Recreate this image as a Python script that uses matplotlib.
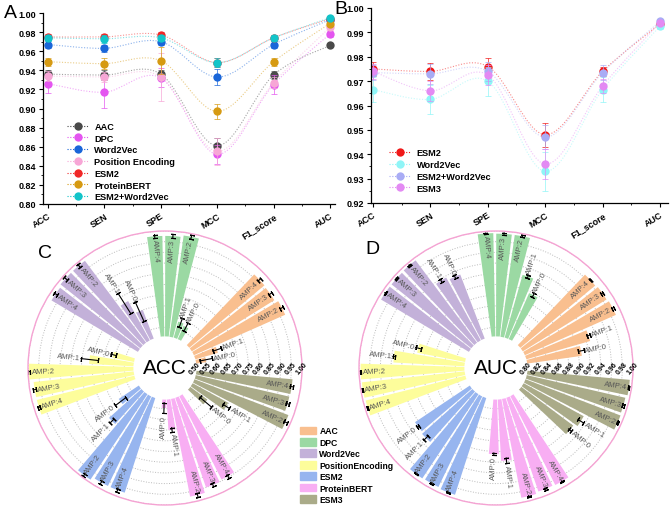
import numpy as np
import matplotlib
matplotlib.use("Agg")
import matplotlib.pyplot as plt
from matplotlib.path import Path
from matplotlib.patches import PathPatch, Patch, Circle
from matplotlib.lines import Line2D
from matplotlib.ticker import MultipleLocator, FixedLocator

plt.rcParams['font.family'] = ['Liberation Sans', 'DejaVu Sans']

# ---------------- data: panel A ----------------
metrics = ["ACC", "SEN", "SPE", "MCC", "F1_score", "AUC"]

a_names = ["AAC", "DPC", "Word2Vec", "Position Encoding", "ESM2", "ProteinBERT", "ESM2+Word2Vec"]
a_aac = [0.936, 0.935, 0.936, 0.861, 0.935, 0.966]
a_dpc = [0.926, 0.917, 0.932, 0.852, 0.925, 0.978]
a_w2v = [0.967, 0.963, 0.970, 0.933, 0.967, 0.993]
a_pe = [0.934, 0.933, 0.933, 0.855, 0.927, 0.985]
a_esm2 = [0.975, 0.975, 0.977, 0.948, 0.974, 0.994]
a_pbert = [0.949, 0.947, 0.950, 0.897, 0.949, 0.989]
a_ew = [0.974, 0.973, 0.974, 0.948, 0.974, 0.995]

ea_aac = [0.004, 0.005, 0.004, 0.008, 0.004, 0.002]
ea_dpc = [0.010, 0.016, 0.010, 0.010, 0.010, 0.003]
ea_w2v = [0.004, 0.004, 0.004, 0.008, 0.004, 0.002]
ea_pe = [0.005, 0.005, 0.025, 0.014, 0.006, 0.003]
ea_esm2 = [0.003, 0.003, 0.003, 0.005, 0.003, 0.001]
ea_pbert = [0.004, 0.006, 0.014, 0.008, 0.004, 0.002]
ea_ew = [0.003, 0.004, 0.003, 0.005, 0.003, 0.001]

a_colors = ['#4a4a4a', '#e455f0', '#1a66d9', '#f7a6d6', '#f02828', '#d69a12', '#12c4c9']

# ---------------- data: panel B ----------------
b_names = ["ESM2", "Word2Vec", "ESM2+Word2Vec", "ESM3"]
b_esm2 = [0.975, 0.974, 0.976, 0.948, 0.974, 0.9935]
b_w2v = [0.9665, 0.9625, 0.970, 0.933, 0.9665, 0.9925]
b_ew = [0.9735, 0.973, 0.974, 0.947, 0.9735, 0.9945]
b_esm3 = [0.974, 0.966, 0.9725, 0.936, 0.968, 0.994]

eb_esm2 = [0.003, 0.0035, 0.0035, 0.005, 0.002, 0.001]
eb_w2v = [0.005, 0.006, 0.006, 0.008, 0.005, 0.001]
eb_ew = [0.003, 0.004, 0.004, 0.005, 0.003, 0.001]
eb_esm3 = [0.003, 0.004, 0.004, 0.006, 0.003, 0.001]

b_colors = ['#f01818', '#8ff5f7', '#a9acf5', '#e38af3']

# ---------------- data: panels C / D ----------------
groups = ["AAC", "DPC", "Word2Vec", "PositionEncoding", "ESM2", "ProteinBERT", "ESM3"]
amp_labels = ["AMP:0", "AMP:1", "AMP:2", "AMP:3", "AMP:4"]
g_colors = ['#f9bf8f', '#9bd9a3', '#c3b1d9', '#fdfd9b', '#97b5ef', '#f8aef3', '#aaab89']

acc_aac = [0.555, 0.617, 0.974, 0.961, 0.964]
acc_dpc = [0.575, 0.585, 0.985, 0.977, 0.977]
acc_w2v = [0.650, 0.717, 0.985, 0.985, 0.977]
acc_pe = [0.610, 0.715, 0.995, 0.977, 0.977]
acc_esm2 = [0.620, 0.710, 0.987, 0.972, 0.972]
acc_pbert = [0.547, 0.650, 0.972, 0.950, 0.944]
acc_esm3 = [0.607, 0.697, 0.977, 0.956, 0.958]

eacc_aac = [0.030, 0.020, 0.008, 0.008, 0.008]
eacc_dpc = [0.020, 0.020, 0.008, 0.008, 0.008]
eacc_w2v = [0.050, 0.055, 0.008, 0.008, 0.008]
eacc_pe = [0.012, 0.040, 0.006, 0.006, 0.006]
eacc_esm2 = [0.030, 0.012, 0.008, 0.008, 0.008]
eacc_pbert = [0.025, 0.010, 0.008, 0.008, 0.008]
eacc_esm3 = [0.035, 0.018, 0.008, 0.008, 0.008]

auc_aac = [0.906, 0.927, 0.989, 0.987, 0.985]
auc_dpc = [0.897, 0.925, 0.995, 0.995, 0.996]
auc_w2v = [0.931, 0.937, 0.995, 0.994, 0.994]
auc_pe = [0.894, 0.936, 0.997, 0.996, 0.995]
auc_esm2 = [0.926, 0.929, 0.992, 0.991, 0.993]
auc_pbert = [0.905, 0.918, 0.991, 0.988, 0.989]
auc_esm3 = [0.924, 0.931, 0.993, 0.992, 0.995]

eauc_aac = [0.005, 0.003, 0.002, 0.002, 0.001]
eauc_dpc = [0.004, 0.003, 0.002, 0.002, 0.001]
eauc_w2v = [0.003, 0.003, 0.001, 0.001, 0.001]
eauc_pe = [0.005, 0.002, 0.001, 0.001, 0.001]
eauc_esm2 = [0.002, 0.006, 0.001, 0.001, 0.001]
eauc_pbert = [0.002, 0.005, 0.001, 0.002, 0.001]
eauc_esm3 = [0.003, 0.006, 0.001, 0.002, 0.001]


def smooth_path(x, y):
    # Catmull-Rom style bezier through the points (display spline like Origin)
    pts = np.column_stack([x, y]).astype(float)
    n = len(pts)
    verts = [pts[0]]
    codes = [Path.MOVETO]
    for i in range(n - 1):
        p0 = pts[i - 1] if i > 0 else pts[i]
        p1, p2 = pts[i], pts[i + 1]
        p3 = pts[i + 2] if i + 2 < n else pts[i + 1]
        verts += [p1 + (p2 - p0) / 6, p2 - (p3 - p1) / 6, p2]
        codes += [Path.CURVE4] * 3
    return Path(verts, codes)


def line_panel(ax, series, errs, names, colors, ylim, ymaj, ymin, xlim):
    x = np.arange(len(metrics))
    for vals, err, name, c in zip(series, errs, names, colors):
        ax.add_patch(PathPatch(smooth_path(x, vals), fill=False, ec=c, lw=0.8,
                               ls=(0, (1, 1.5)), alpha=0.5))
        ax.errorbar(x, vals, yerr=err, fmt='none', ecolor=c, elinewidth=0.7,
                    capsize=2, capthick=0.7, alpha=0.7)
        ax.plot(x, vals, 'o', color=c, ms=6, mec='none')
    ax.set_xlim(*xlim)
    ax.set_ylim(*ylim)
    ax.set_xticks(x)
    ax.set_xticklabels(metrics, rotation=32, ha='right', rotation_mode='anchor',
                       fontsize=6.5, fontweight='bold')
    ax.xaxis.set_minor_locator(FixedLocator(x[:-1] + 0.5))
    ax.yaxis.set_major_locator(MultipleLocator(ymaj))
    ax.yaxis.set_minor_locator(MultipleLocator(ymin))
    ax.yaxis.set_major_formatter(plt.FormatStrFormatter('%.2f'))
    for lab in ax.get_yticklabels():
        lab.set_fontweight('bold')
        lab.set_fontsize(6.5)
    ax.tick_params(which='major', direction='out', length=3, width=0.8, pad=2)
    ax.tick_params(which='minor', direction='out', length=1.5, width=0.6)
    for s in ['top', 'right']:
        ax.spines[s].set_visible(False)
    for s in ['left', 'bottom']:
        ax.spines[s].set_linewidth(0.9)
    handles = [Line2D([], [], color=c, marker='o', ms=6, mec='none', ls=(0, (1, 1.5)), lw=0.8)
               for c in colors]
    ax.legend(handles, names, loc='lower left', bbox_to_anchor=(0.06, -0.02), frameon=False,
              prop={'weight': 'bold', 'size': 6.6}, handlelength=2.4, handletextpad=0.6,
              labelspacing=0.3, borderaxespad=0.3)


def radial_panel(ax, vals, errs, rmin, rorigin, ticks, title):
    s = 360 / 45.5
    a0 = 11.4
    ax.set_ylim(rmin, 1.0)
    ax.set_rorigin(rorigin)
    ax.set_axisbelow(True)
    w = np.deg2rad(s * 0.84)
    pad = 0.012 * (1 - rmin)
    for g, (gv, ge, c) in enumerate(zip(vals, errs, g_colors)):
        t_deg = a0 + g * 6.5 * s + np.arange(5) * s
        th = np.deg2rad(t_deg)
        v = np.array(gv)
        e = np.array(ge)
        ax.bar(th, v - rmin, width=w, bottom=rmin, color=c, edgecolor='none')
        for j in range(5):
            ax.plot([th[j], th[j]], [v[j] - e[j], v[j] + e[j]], color='black', lw=0.8)
            for rr in (v[j] - e[j], v[j] + e[j]):
                ax.plot([th[j]], [rr], ls='none', marker=(2, 2, t_deg[j]), ms=3.5,
                        mec='black', mew=0.8)
            t = t_deg[j] % 360
            right = t <= 90 or t >= 270
            rot = t if right else t - 180
            short = v[j] < rmin + 0.8 * (1 - rmin)
            if short:
                r_txt = v[j] + e[j] + pad
                ha = 'left' if right else 'right'
            else:
                r_txt = v[j] - e[j] - pad
                ha = 'right' if right else 'left'
            ax.text(th[j], r_txt, amp_labels[j], rotation=rot, rotation_mode='anchor',
                    ha=ha, va='center', fontsize=5.5, color='#555555')
    ax.set_xticks([])
    ax.set_yticks(ticks[1:])
    ax.set_yticklabels([])
    ax.tick_params(axis='y', length=0)
    ax.yaxis.grid(True, ls=':', color='#bbbbbb', lw=0.7)
    ax.spines['polar'].set_color('#f5a3d3')
    ax.spines['polar'].set_linewidth(1.0)
    ax.spines['inner'].set_linewidth(0)
    ax.spines['inner'].set_color('none')
    # white hole in the middle, drawn above the inner ring
    hole = 0.5 * (rmin - rorigin) / (1 - rorigin)
    ax.add_patch(Circle((0.5, 0.5), hole + 0.006, transform=ax.transAxes, fc='white',
                        ec='none', zorder=2.9, clip_on=False))
    for tk in ticks:
        ax.text(0, tk, '%.2f' % tk, rotation=50, ha='center', va='center',
                fontsize=5, fontweight='bold', zorder=3)
    ax.text(0.5, 0.5, title, transform=ax.transAxes, ha='center', va='center',
            fontsize=15, zorder=3)


fig = plt.figure(figsize=(6.7, 5.1), dpi=100)
W, H = 670, 510


def px_axes(x0, y0, x1, y1, **kw):
    return fig.add_axes([x0 / W, 1 - y1 / H, (x1 - x0) / W, (y1 - y0) / H], **kw)


axA = px_axes(43, 14, 335, 205)
line_panel(axA, [a_aac, a_dpc, a_w2v, a_pe, a_esm2, a_pbert, a_ew],
           [ea_aac, ea_dpc, ea_w2v, ea_pe, ea_esm2, ea_pbert, ea_ew],
           a_names, a_colors, (0.80, 1.00), 0.02, 0.01, (-0.09, 5.09))

axB = px_axes(371, 9, 668, 204)
line_panel(axB, [b_esm2, b_w2v, b_ew, b_esm3], [eb_esm2, eb_w2v, eb_ew, eb_esm3],
           b_names, b_colors, (0.92, 1.00), 0.01, 0.005, (-0.035, 5.14))
axB.get_legend().set_bbox_to_anchor((0.04, 0.02), transform=axB.transAxes)

axC = px_axes(165 - 137, 369 - 137, 165 + 137, 369 + 137, projection='polar')
radial_panel(axC, [acc_aac, acc_dpc, acc_w2v, acc_pe, acc_esm2, acc_pbert, acc_esm3],
             [eacc_aac, eacc_dpc, eacc_w2v, eacc_pe, eacc_esm2, eacc_pbert, eacc_esm3],
             0.5, 0.36, np.arange(0.50, 1.001, 0.05), 'ACC')

axD = px_axes(496 - 137, 369 - 137, 496 + 137, 369 + 137, projection='polar')
radial_panel(axD, [auc_aac, auc_dpc, auc_w2v, auc_pe, auc_esm2, auc_pbert, auc_esm3],
             [eauc_aac, eauc_dpc, eauc_w2v, eauc_pe, eauc_esm2, eauc_pbert, eauc_esm3],
             0.8, 0.744, np.arange(0.80, 1.001, 0.02), 'AUC')

fig.legend([Patch(color=c) for c in g_colors], groups, loc='upper left',
           bbox_to_anchor=(297 / W, 1 - 424 / H), frameon=False,
           prop={'weight': 'bold', 'size': 6.2}, handlelength=1.8, handleheight=1.0,
           handletextpad=0.4, labelspacing=0.28, borderaxespad=0)

for letter, x, y in [('A', 10, 14), ('B', 341, 9), ('C', 45, 253), ('D', 372, 250)]:
    fig.text(x / W, 1 - y / H, letter, fontsize=14, ha='center', va='center')

fig.savefig('out.png', dpi=100)
